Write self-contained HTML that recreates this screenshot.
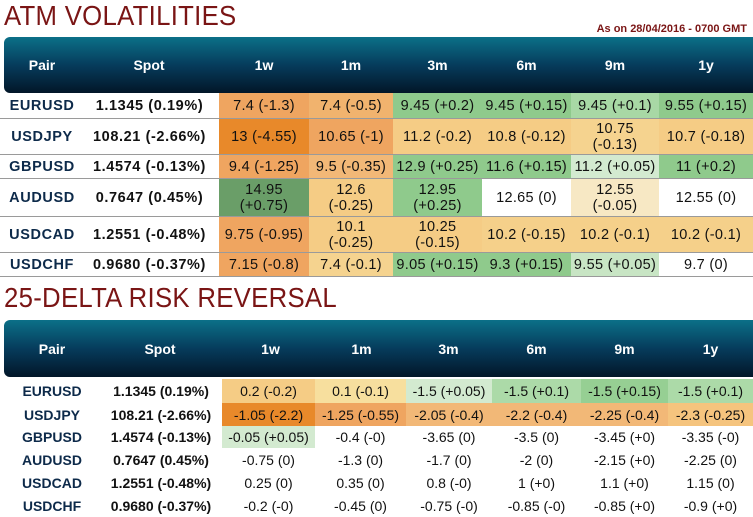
<!DOCTYPE html>
<html><head><meta charset="utf-8"><style>
*{margin:0;padding:0;box-sizing:border-box}
body{width:753px;height:517px;background:#fff;position:relative;overflow:hidden;font-family:"Liberation Sans","DejaVu Sans",sans-serif}
.title{position:absolute;left:4px;color:#7a1515;font-size:28px;letter-spacing:0.3px;transform:scaleX(0.92);transform-origin:left}
.asof{position:absolute;right:6px;top:23px;color:#7a1515;font-size:11px;font-weight:bold}
.hdr{position:absolute;left:4px;width:749px;border-radius:6px 0 0 6px;background:linear-gradient(#0b7088,#063c5c 50%,#021628);color:#fff;font-weight:bold;font-size:14px}
.hdr div,.row div{position:absolute;top:0;height:100%;display:flex;align-items:center;justify-content:center;text-align:center;line-height:16px;white-space:nowrap}
.row{position:absolute;left:0;width:753px;font-size:14.5px;color:#111}
.t1 .row{border-bottom:1px solid #9a9a9a;letter-spacing:0.3px}
.t1 .row .s,.t1 .row .p{letter-spacing:0.6px}
.p{font-weight:bold;color:#0d2a4a}
.s{font-weight:bold;color:#111}
.t2 .row{font-size:14px}
</style></head><body>
<div class="title" style="top:0px">ATM VOLATILITIES</div>
<div class="asof">As on 28/04/2016 - 0700 GMT</div>
<div class="hdr" style="top:37px;height:56px">
<div style="left:0;width:76px">Pair</div><div style="left:76px;width:138px">Spot</div>
<div style="left:215px;width:90px">1w</div><div style="left:305px;width:84px">1m</div>
<div style="left:389px;width:89px">3m</div><div style="left:478px;width:89px">6m</div>
<div style="left:567px;width:88px">9m</div><div style="left:655px;width:94px">1y</div>
</div>
<div class="t1">
<div class="row" style="top:93px;height:26px"><div class="p" style="left:4px;width:76px">EURUSD</div><div class="s" style="left:80px;width:139px">1.1345 (0.19%)</div><div style="left:219px;width:90px;background:#efa560">7.4 (-1.3)</div><div style="left:309px;width:84px;background:#f1b36e">7.4 (-0.5)</div><div style="left:393px;width:89px;background:#8fca8c">9.45 (+0.2)</div><div style="left:482px;width:89px;background:#8fca8c">9.45 (+0.15)</div><div style="left:571px;width:88px;background:#a8d8a5">9.45 (+0.1)</div><div style="left:659px;width:94px;background:#8fca8c">9.55 (+0.15)</div></div>
<div class="row" style="top:119px;height:36px"><div class="p" style="left:4px;width:76px">USDJPY</div><div class="s" style="left:80px;width:139px">108.21 (-2.66%)</div><div style="left:219px;width:90px;background:#e8892a">13 (-4.55)</div><div style="left:309px;width:84px;background:#efa560">10.65 (-1)</div><div style="left:393px;width:89px;background:#f5cc85">11.2 (-0.2)</div><div style="left:482px;width:89px;background:#f5cc85">10.8 (-0.12)</div><div style="left:571px;width:88px;background:#f5d38f">10.75<br>(-0.13)</div><div style="left:659px;width:94px;background:#f5cc85">10.7 (-0.18)</div></div>
<div class="row" style="top:155px;height:24px"><div class="p" style="left:4px;width:76px">GBPUSD</div><div class="s" style="left:80px;width:139px">1.4574 (-0.13%)</div><div style="left:219px;width:90px;background:#efa560">9.4 (-1.25)</div><div style="left:309px;width:84px;background:#f2b877">9.5 (-0.35)</div><div style="left:393px;width:89px;background:#8fca8c">12.9 (+0.25)</div><div style="left:482px;width:89px;background:#8fca8c">11.6 (+0.15)</div><div style="left:571px;width:88px;background:#d3ead0">11.2 (+0.05)</div><div style="left:659px;width:94px;background:#8fca8c">11 (+0.2)</div></div>
<div class="row" style="top:179px;height:38px"><div class="p" style="left:4px;width:76px">AUDUSD</div><div class="s" style="left:80px;width:139px">0.7647 (0.45%)</div><div style="left:219px;width:90px;background:#6a9e68">14.95<br>(+0.75)</div><div style="left:309px;width:84px;background:#f5cc85">12.6<br>(-0.25)</div><div style="left:393px;width:89px;background:#8fca8c">12.95<br>(+0.25)</div><div style="left:482px;width:89px;background:#fff">12.65 (0)</div><div style="left:571px;width:88px;background:#f7e8c4">12.55<br>(-0.05)</div><div style="left:659px;width:94px;background:#fff">12.55 (0)</div></div>
<div class="row" style="top:217px;height:36px"><div class="p" style="left:4px;width:76px">USDCAD</div><div class="s" style="left:80px;width:139px">1.2551 (-0.48%)</div><div style="left:219px;width:90px;background:#efa560">9.75 (-0.95)</div><div style="left:309px;width:84px;background:#f5cc85">10.1<br>(-0.25)</div><div style="left:393px;width:89px;background:#f5cc85">10.25<br>(-0.15)</div><div style="left:482px;width:89px;background:#f5d08a">10.2 (-0.15)</div><div style="left:571px;width:88px;background:#f5d08a">10.2 (-0.1)</div><div style="left:659px;width:94px;background:#f5d08a">10.2 (-0.1)</div></div>
<div class="row" style="top:253px;height:24px"><div class="p" style="left:4px;width:76px">USDCHF</div><div class="s" style="left:80px;width:139px">0.9680 (-0.37%)</div><div style="left:219px;width:90px;background:#efa560">7.15 (-0.8)</div><div style="left:309px;width:84px;background:#f5d38f">7.4 (-0.1)</div><div style="left:393px;width:89px;background:#8fca8c">9.05 (+0.15)</div><div style="left:482px;width:89px;background:#8fca8c">9.3 (+0.15)</div><div style="left:571px;width:88px;background:#c8e5c4">9.55 (+0.05)</div><div style="left:659px;width:94px;background:#fff">9.7 (0)</div></div>
</div>
<div class="title" style="top:282px">25-DELTA RISK REVERSAL</div>
<div class="hdr" style="top:320px;height:57px">
<div style="left:0;width:96px">Pair</div><div style="left:96px;width:120px">Spot</div>
<div style="left:218px;width:97px">1w</div><div style="left:314px;width:87px">1m</div>
<div style="left:401px;width:87px">3m</div><div style="left:488px;width:89px">6m</div>
<div style="left:577px;width:87px">9m</div><div style="left:664px;width:85px">1y</div>
</div>
<div class="t2">
<div class="row" style="top:379px;height:24px"><div class="p" style="left:4px;width:96px">EURUSD</div><div class="s" style="left:100px;width:122px">1.1345 (0.19%)</div><div style="left:222px;width:93px;background:#f5cc85">0.2 (-0.2)</div><div style="left:315px;width:91px;background:#f7df9e">0.1 (-0.1)</div><div style="left:406px;width:86px;background:#d3ead0">-1.5 (+0.05)</div><div style="left:492px;width:89px;background:#acdaa8">-1.5 (+0.1)</div><div style="left:581px;width:87px;background:#96cf93">-1.5 (+0.15)</div><div style="left:668px;width:85px;background:#acdaa8">-1.5 (+0.1)</div></div>
<div class="row" style="top:403px;height:23px"><div class="p" style="left:4px;width:96px">USDJPY</div><div class="s" style="left:100px;width:122px">108.21 (-2.66%)</div><div style="left:222px;width:93px;background:#e8892a">-1.05 (-2.2)</div><div style="left:315px;width:91px;background:#efa560">-1.25 (-0.55)</div><div style="left:406px;width:86px;background:#f2b877">-2.05 (-0.4)</div><div style="left:492px;width:89px;background:#f2b877">-2.2 (-0.4)</div><div style="left:581px;width:87px;background:#f2b877">-2.25 (-0.4)</div><div style="left:668px;width:85px;background:#f5c47e">-2.3 (-0.25)</div></div>
<div class="row" style="top:426px;height:22px"><div class="p" style="left:4px;width:96px">GBPUSD</div><div class="s" style="left:100px;width:122px">1.4574 (-0.13%)</div><div style="left:222px;width:93px;background:#d3ead0">-0.05 (+0.05)</div><div style="left:315px;width:91px">-0.4 (-0)</div><div style="left:406px;width:86px">-3.65 (0)</div><div style="left:492px;width:89px">-3.5 (0)</div><div style="left:581px;width:87px">-3.45 (+0)</div><div style="left:668px;width:85px">-3.35 (-0)</div></div>
<div class="row" style="top:448px;height:24px"><div class="p" style="left:4px;width:96px">AUDUSD</div><div class="s" style="left:100px;width:122px">0.7647 (0.45%)</div><div style="left:222px;width:93px">-0.75 (0)</div><div style="left:315px;width:91px">-1.3 (0)</div><div style="left:406px;width:86px">-1.7 (0)</div><div style="left:492px;width:89px">-2 (0)</div><div style="left:581px;width:87px">-2.15 (+0)</div><div style="left:668px;width:85px">-2.25 (0)</div></div>
<div class="row" style="top:472px;height:22px"><div class="p" style="left:4px;width:96px">USDCAD</div><div class="s" style="left:100px;width:122px">1.2551 (-0.48%)</div><div style="left:222px;width:93px">0.25 (0)</div><div style="left:315px;width:91px">0.35 (0)</div><div style="left:406px;width:86px">0.8 (-0)</div><div style="left:492px;width:89px">1 (+0)</div><div style="left:581px;width:87px">1.1 (+0)</div><div style="left:668px;width:85px">1.15 (0)</div></div>
<div class="row" style="top:494px;height:23px"><div class="p" style="left:4px;width:96px">USDCHF</div><div class="s" style="left:100px;width:122px">0.9680 (-0.37%)</div><div style="left:222px;width:93px">-0.2 (-0)</div><div style="left:315px;width:91px">-0.45 (0)</div><div style="left:406px;width:86px">-0.75 (-0)</div><div style="left:492px;width:89px">-0.85 (-0)</div><div style="left:581px;width:87px">-0.85 (+0)</div><div style="left:668px;width:85px">-0.9 (+0)</div></div>
</div>
</body></html>
